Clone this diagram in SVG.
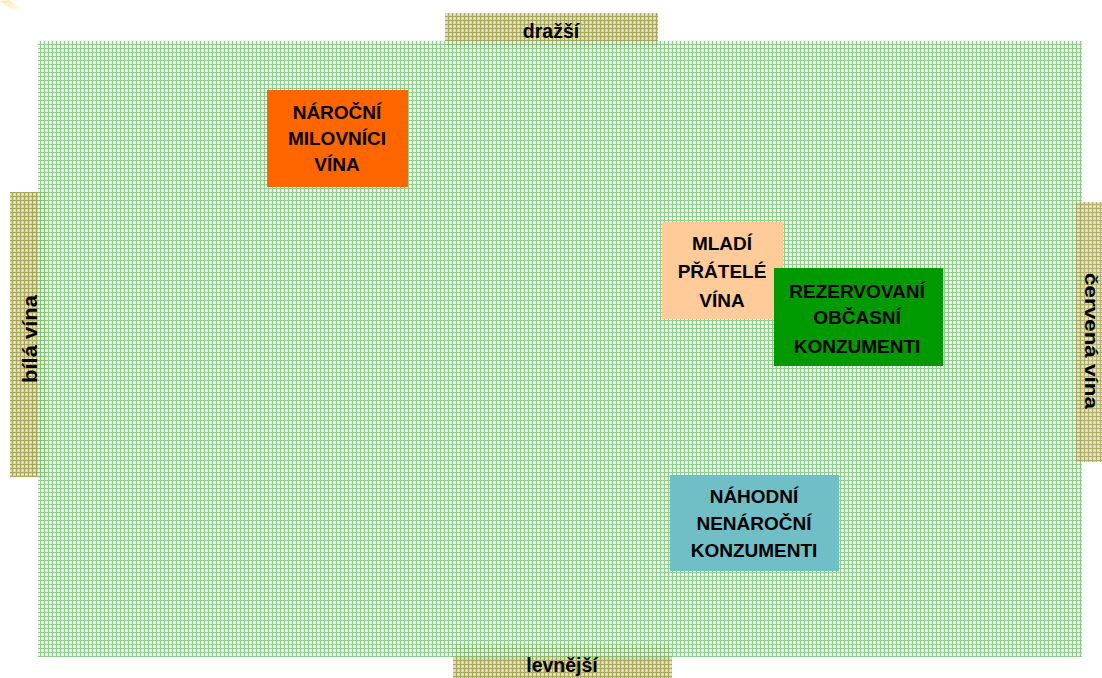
<svg xmlns="http://www.w3.org/2000/svg" width="1102" height="678" viewBox="0 0 1102 678">
<defs>
<pattern id="grn" width="4" height="4" patternUnits="userSpaceOnUse">
<rect width="4" height="4" fill="#e2f2e0"/>
<rect x="0" y="0" width="1" height="4" fill="#7cc479"/>
<rect x="0" y="0" width="4" height="1" fill="#7cc479"/>
<rect x="2" y="2" width="1" height="1" fill="#ffffff"/>
</pattern>
<pattern id="tan" width="4" height="4" patternUnits="userSpaceOnUse">
<rect width="4" height="4" fill="#dcd9a8"/>
<rect x="0" y="0" width="1" height="4" fill="#a8a65a"/>
<rect x="0" y="0" width="4" height="1" fill="#a8a65a"/>
<rect x="2" y="2" width="1" height="1" fill="#f0eed8"/>
</pattern>
<linearGradient id="streak" x1="0" y1="0" x2="1" y2="1">
<stop offset="0" stop-color="#f8e08a" stop-opacity="0.9"/>
<stop offset="1" stop-color="#ffffff" stop-opacity="0"/>
</linearGradient>
</defs>
<style>
.lbl{font-family:"Liberation Sans",Arial,sans-serif;font-weight:bold;font-size:19.5px;fill:#000;text-anchor:middle}
.nt{font-family:"Liberation Sans",Arial,sans-serif;font-weight:bold;font-size:19px;fill:#000;text-anchor:middle}
</style>
<rect width="1102" height="678" fill="#ffffff"/>
<path d="M0,1 Q14,12 32,16 Q20,9 9,0 Z" fill="url(#streak)"/>
<g id="axis-top"><rect x="445" y="13" width="213" height="34" fill="url(#tan)"/><text class="lbl" x="551" y="38">dražší</text></g>
<g id="axis-left"><rect x="10" y="192" width="37" height="285" fill="url(#tan)"/></g>
<g id="axis-bottom"><rect x="453" y="645" width="219" height="33" fill="url(#tan)"/></g>
<rect id="field" x="38" y="41" width="1044" height="616" fill="url(#grn)" opacity="0.85"/>
<g id="axis-right"><rect x="1076" y="202" width="26" height="260" fill="url(#tan)" opacity="0.9"/></g>
<g id="axis-labels">
<text class="lbl" transform="translate(37,339) rotate(-90)" textLength="88" lengthAdjust="spacingAndGlyphs">bílá vína</text>
<text class="lbl" style="font-size:18.5px" transform="translate(1085,341) rotate(90)" textLength="136" lengthAdjust="spacingAndGlyphs">červená vína</text>
<text class="lbl" x="562" y="672">levnější</text>
</g>
<g id="n1"><rect x="267" y="90" width="141" height="97" fill="#ff6600"/>
<text class="nt" x="337" y="119">NÁROČNÍ</text><text class="nt" x="337" y="145">MILOVNÍCI</text><text class="nt" x="337" y="171">VÍNA</text></g>
<g id="n2"><rect x="662" y="222" width="121" height="97" fill="#ffcc99"/>
<text class="nt" x="722" y="250">MLADÍ</text><text class="nt" x="722" y="278">PŘÁTELÉ</text><text class="nt" x="722" y="307">VÍNA</text></g>
<g id="n3"><rect x="774" y="268" width="169" height="98" fill="#009900"/>
<text class="nt" x="857" y="298">REZERVOVANÍ</text><text class="nt" x="857" y="324">OBČASNÍ</text><text class="nt" x="857" y="353">KONZUMENTI</text></g>
<g id="n4"><rect x="670" y="475" width="169" height="96" fill="#70bfc6"/>
<text class="nt" x="754" y="503">NÁHODNÍ</text><text class="nt" x="754" y="530">NENÁROČNÍ</text><text class="nt" x="754" y="557">KONZUMENTI</text></g>
<g id="connectors"/>
</svg>
